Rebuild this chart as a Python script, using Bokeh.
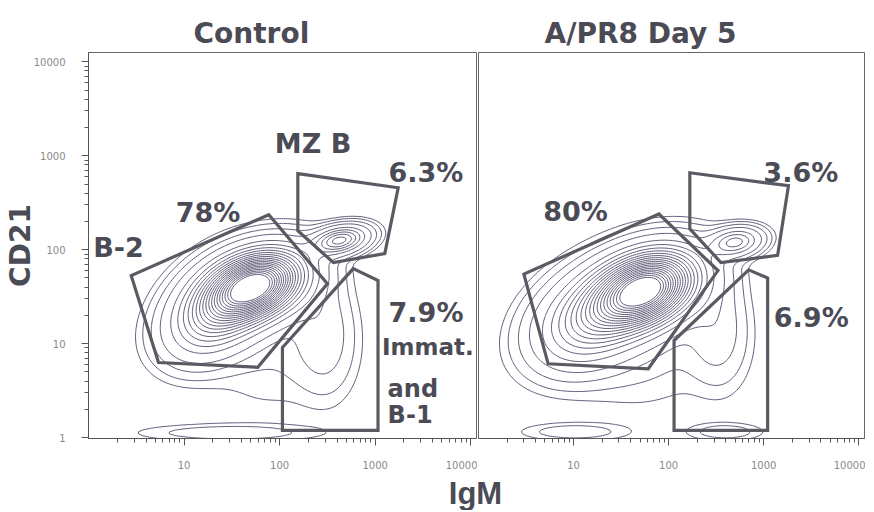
import numpy as np
from bokeh.plotting import figure
from bokeh.models import Range1d, Label, FixedTicker, PrintfTickFormatter
from bokeh.layouts import column, row
from bokeh.embed import file_html
from bokeh.resources import INLINE

# ---------------- data ----------------
panel_titles = ["Control", "A/PR8 Day 5"]
x_title = "IgM"
y_title = "CD21"
y_ticks = [1, 10, 100, 1000, 10000]
x_ticks = [10, 100, 1000, 10000]

# cell populations: log10 IgM centre, log10 CD21 centre, spread x, spread y, correlation, relative peak height
ctrl_cx = [1.75, 1.35, 2.63, 2.45, 1.95, 1.45]
ctrl_cy = [1.62, 1.35, 2.10, 1.15, 0.90, 0.05]
ctrl_sx = [0.30, 0.30, 0.17, 0.20, 0.45, 0.60]
ctrl_sy = [0.22, 0.28, 0.09, 0.40, 0.42, 0.06]
ctrl_r = [0.30, 0.35, 0.30, -0.10, 0.10, 0.00]
ctrl_h = [1.00, 0.35, 0.32, 0.04, 0.012, 0.02]

day5_cx = [1.76, 1.25, 2.70, 2.50, 1.75, 1.00, 2.60]
day5_cy = [1.58, 1.30, 2.08, 1.20, 0.95, 0.06, 0.06]
day5_sx = [0.32, 0.36, 0.16, 0.20, 0.50, 0.35, 0.25]
day5_sy = [0.24, 0.30, 0.09, 0.38, 0.42, 0.06, 0.06]
day5_r = [0.30, 0.35, 0.20, -0.10, 0.10, 0.00, 0.00]
day5_h = [1.00, 0.35, 0.22, 0.04, 0.015, 0.02, 0.02]

# gates (IgM, CD21)
ctrl_b2_x = [77, 2.8, 5.4, 59, 316]
ctrl_b2_y = [236, 53, 6.3, 5.6, 43.5]
ctrl_mz_x = [155, 1740, 1260, 365, 155]
ctrl_mz_y = [645, 457, 91, 73, 159]
ctrl_im_x = [590, 1070, 1070, 107, 107]
ctrl_im_y = [63, 47, 1.19, 1.19, 9.1]

day5_b2_x = [79, 3.0, 5.4, 61, 330]
day5_b2_y = [240, 55, 6.1, 5.4, 60]
day5_mz_x = [167, 1820, 1400, 355, 167]
day5_mz_y = [660, 480, 87, 73, 167]
day5_im_x = [695, 1100, 1100, 114, 114]
day5_im_y = [61, 50, 1.19, 1.19, 10.8]

ctrl_pct = ["78%", "6.3%", "7.9%"]
day5_pct = ["80%", "3.6%", "6.9%"]

# ---------------- styling ----------------
FONT = "DejaVu Sans"
TXT = "#4b4b55"
CONT = "#605a78"
GATE = "#5a5a63"
X_END = 10 ** 4.06
Y_START, Y_END = 10 ** -0.01, 10 ** 4.1
levels = [0.006, 0.012, 0.025] + list(np.linspace(0.05, 0.95, 19))
minor = [m * 10 ** k for k in range(0, 4) for m in range(2, 10)]

gx = np.linspace(-0.4, 4.4, 241)
gy = np.linspace(-0.4, 4.4, 241)


def density(cx, cy, sx, sy, rr, hh):
    X, Y = np.meshgrid(gx, gy)
    z = np.zeros_like(X)
    for a, b, s, t, r, h in zip(cx, cy, sx, sy, rr, hh):
        u = (X - a) / s
        v = (Y - b) / t
        q = (u * u - 2 * r * u * v + v * v) / (1 - r * r)
        z += h * np.exp(-0.5 * q)
    return z


def style_axis(ax, ticks):
    ax.ticker = FixedTicker(ticks=ticks, minor_ticks=minor)
    ax.formatter = PrintfTickFormatter(format="%d")
    ax.major_label_text_font = FONT
    ax.major_label_text_font_size = "10px"
    ax.major_label_text_color = "#8a8a8a"
    ax.axis_line_color = "#555555"
    ax.major_tick_line_color = "#555555"
    ax.minor_tick_line_color = "#555555"
    ax.major_tick_in = 0
    ax.minor_tick_in = 0
    ax.major_tick_out = 7
    ax.minor_tick_out = 4


def make_panel(title, offset, pcx, pcy, psx, psy, pr, ph, gates, left):
    kw = dict(
        title=title,
        x_axis_type="log", y_axis_type="log",
        x_range=Range1d(1, X_END), y_range=Range1d(Y_START, Y_END),
        frame_width=388 if left else 386, frame_height=386,
        min_border_top=52, min_border_bottom=36,
        min_border_left=88 if left else 1, min_border_right=1,
        output_backend="svg", toolbar_location=None,
    )
    if not left:
        kw["y_axis_location"] = None
    p = figure(**kw)
    p.title.text_font = FONT
    p.title.text_font_style = "bold"
    p.title.text_font_size = "28px"
    p.title.text_color = TXT
    p.title.align = "left"
    p.title.offset = offset
    p.title.standoff = 6
    p.grid.visible = False
    p.outline_line_color = "#666666"
    p.outline_line_width = 1
    p.background_fill_color = "white"
    p.border_fill_color = "white"
    style_axis(p.xaxis[0], x_ticks)
    p.xaxis[0].major_label_standoff = 15
    if left:
        style_axis(p.yaxis[0], y_ticks)
        p.yaxis[0].major_label_standoff = 16

    z = density(pcx, pcy, psx, psy, pr, ph)
    p.contour(x=10 ** gx, y=10 ** gy, z=z, levels=levels,
              line_color=CONT, line_width=1)
    for gxs, gys in gates:
        p.patch(gxs, gys, fill_color=None, line_color=GATE,
                line_width=3.2, line_join="miter")
    return p


def add_text(p, x, y, text, size="27px", align="center"):
    p.add_layout(Label(x=x, y=y, text=text, text_font=FONT,
                       text_font_style="bold", text_font_size=size,
                       text_color=TXT, text_align=align,
                       text_baseline="middle"))


p1 = make_panel(panel_titles[0], 105, ctrl_cx, ctrl_cy, ctrl_sx, ctrl_sy, ctrl_r, ctrl_h,
                [(ctrl_b2_x, ctrl_b2_y), (ctrl_mz_x, ctrl_mz_y), (ctrl_im_x, ctrl_im_y)], True)
p2 = make_panel(panel_titles[1], 66, day5_cx, day5_cy, day5_sx, day5_sy, day5_r, day5_h,
                [(day5_b2_x, day5_b2_y), (day5_mz_x, day5_mz_y), (day5_im_x, day5_im_y)], False)

# y axis title CD21
ya = p1.yaxis[0]
ya.axis_label = y_title
ya.axis_label_text_font = FONT
ya.axis_label_text_font_style = "bold"
ya.axis_label_text_font_size = "28px"
ya.axis_label_text_color = TXT
ya.axis_label_standoff = -6

# control panel annotations
add_text(p1, 10 ** 2.35, 10 ** 3.13, "MZ B")
add_text(p1, 10 ** 3.53, 10 ** 2.82, ctrl_pct[1])
add_text(p1, 10 ** 1.25, 10 ** 2.40, ctrl_pct[0])
add_text(p1, 10 ** 0.05, 10 ** 2.02, "B-2", align="left")
add_text(p1, 10 ** 3.14, 10 ** 1.33, ctrl_pct[2], align="left")
add_text(p1, 10 ** 3.07, 10 ** 0.96, "Immat.", size="23px", align="left")
add_text(p1, 10 ** 3.13, 10 ** 0.52, "and", size="24px", align="left")
add_text(p1, 10 ** 3.13, 10 ** 0.235, "B-1", size="24px", align="left")

# day 5 annotations
add_text(p2, 10 ** 3.39, 10 ** 2.82, day5_pct[1])
add_text(p2, 10 ** 1.02, 10 ** 2.41, day5_pct[0])
add_text(p2, 10 ** 3.50, 10 ** 1.28, day5_pct[2])

# shared x axis title
W = 477 + 388
H3 = 36
p3 = figure(width=W, height=H3, x_range=Range1d(0, W), y_range=Range1d(0, H3),
            x_axis_location=None, y_axis_location=None, min_border=0,
            output_backend="svg", toolbar_location=None)
p3.grid.visible = False
p3.outline_line_color = None
p3.add_layout(Label(x=475, y=17, text=x_title, text_font="Liberation Sans",
                    text_font_style="bold", text_font_size="31px", text_color=TXT,
                    text_align="center", text_baseline="middle"))

layout = column(row(p1, p2), p3)
open("out.html", "w").write(file_html(layout, INLINE))
